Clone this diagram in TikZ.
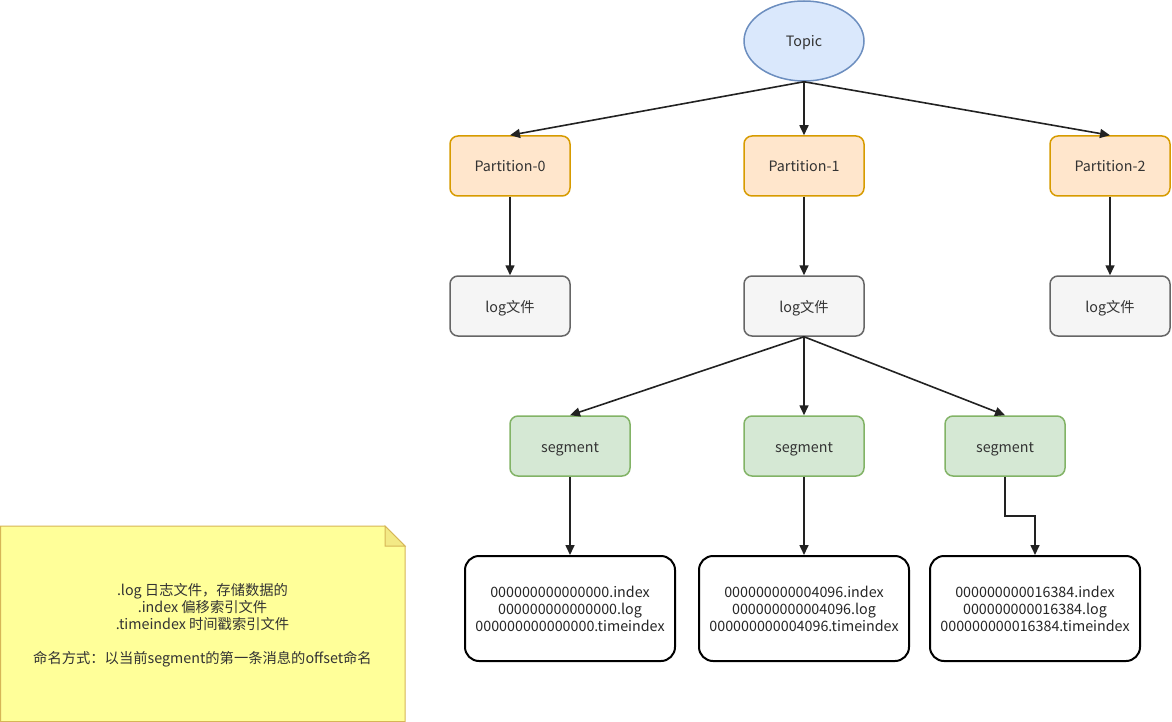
\documentclass[tikz,border=0pt]{standalone}
\usepackage{fontspec}
\setmainfont{Noto Sans CJK SC}
\usetikzlibrary{shapes.geometric,arrows.meta}
\definecolor{topicfill}{HTML}{DAE8FC}
\definecolor{topicline}{HTML}{6C8EBF}
\definecolor{partfill}{HTML}{FFE6CC}
\definecolor{partline}{HTML}{D79B00}
\definecolor{logfill}{HTML}{F5F5F5}
\definecolor{logline}{HTML}{666666}
\definecolor{segfill}{HTML}{D5E8D4}
\definecolor{segline}{HTML}{82B366}
\definecolor{notefill}{HTML}{FFFF99}
\definecolor{noteline}{HTML}{D6B656}
\definecolor{txt}{HTML}{333333}
\definecolor{arr}{HTML}{222222}
\tikzset{
  base/.style={font=\fontsize{14.3}{17}\selectfont, text=txt, align=center, inner sep=0pt},
  single/.style={base, text height=13pt, text depth=1pt},
  box/.style={single, rectangle, rounded corners=8pt, minimum width=120pt, minimum height=60pt, line width=1.5pt},
  partbox/.style={box, fill=partfill, draw=partline},
  logbox/.style={box, fill=logfill, draw=logline},
  segbox/.style={box, fill=segfill, draw=segline},
  filebox/.style={base, text=black!85, rectangle, rounded corners=14pt, minimum width=210pt, minimum height=105pt, line width=2pt, draw=black, fill=white},
  conn/.style={draw=arr, line width=1.6pt, -{Triangle[length=10pt,width=9pt]}},
}
\begin{document}
\begin{tikzpicture}[x=1pt,y=-1pt]
\useasboundingbox (0,0) rectangle (1172,722);
% note
\path[fill=notefill, draw=noteline, line width=1pt] (0.5,526) -- (385,526) -- (405,546) -- (405,721.5) -- (0.5,721.5) -- cycle;
\path[fill=notefill!70!noteline, draw=noteline, line width=1pt] (385,526) -- (385,546) -- (405,546) -- cycle;
\node[base] (note) at (202.5,625) {.log 日志文件，存储数据的\\.index 偏移索引文件\\.timeindex 时间戳索引文件\\[17pt]命名方式：以当前segment的第一条消息的offset命名};

\node[single, ellipse, minimum width=120pt, minimum height=80pt, fill=topicfill, draw=topicline, line width=1.5pt] (topic) at (804,41) {Topic};

\node[partbox] (p0) at (510,166) {Partition-0};
\node[partbox] (p1) at (804,166) {Partition-1};
\node[partbox] (p2) at (1110,166) {Partition-2};

\node[logbox] (l0) at (510,306) {log文件};
\node[logbox] (l1) at (804,306) {log文件};
\node[logbox] (l2) at (1110,306) {log文件};

\node[segbox] (s0) at (570,446) {segment};
\node[segbox] (s1) at (804,446) {segment};
\node[segbox] (s2) at (1005,446) {segment};

\node[filebox] (f0) at (570,608.5) {000000000000000.index\\000000000000000.log\\000000000000000.timeindex};
\node[filebox] (f1) at (804,608.5) {000000000004096.index\\000000000004096.log\\000000000004096.timeindex};
\node[filebox] (f2) at (1035,608.5) {000000000016384.index\\000000000016384.log\\000000000016384.timeindex};

\draw[conn] (topic.south) -- (p0.north);
\draw[conn] (topic.south) -- (p1.north);
\draw[conn] (topic.south) -- (p2.north);
\draw[conn] (p0.south) -- (l0.north);
\draw[conn] (p1.south) -- (l1.north);
\draw[conn] (p2.south) -- (l2.north);
\draw[conn] (l1.south) -- (s0.north);
\draw[conn] (l1.south) -- (s1.north);
\draw[conn] (l1.south) -- (s2.north);
\draw[conn] (s0.south) -- (f0.north);
\draw[conn] (s1.south) -- (f1.north);
\coordinate (k1) at (1005,516);
\coordinate (k2) at (1035,516);
\draw[conn] (s2.south) -- (k1) -- (k2) -- (f2.north);
\end{tikzpicture}
\end{document}
